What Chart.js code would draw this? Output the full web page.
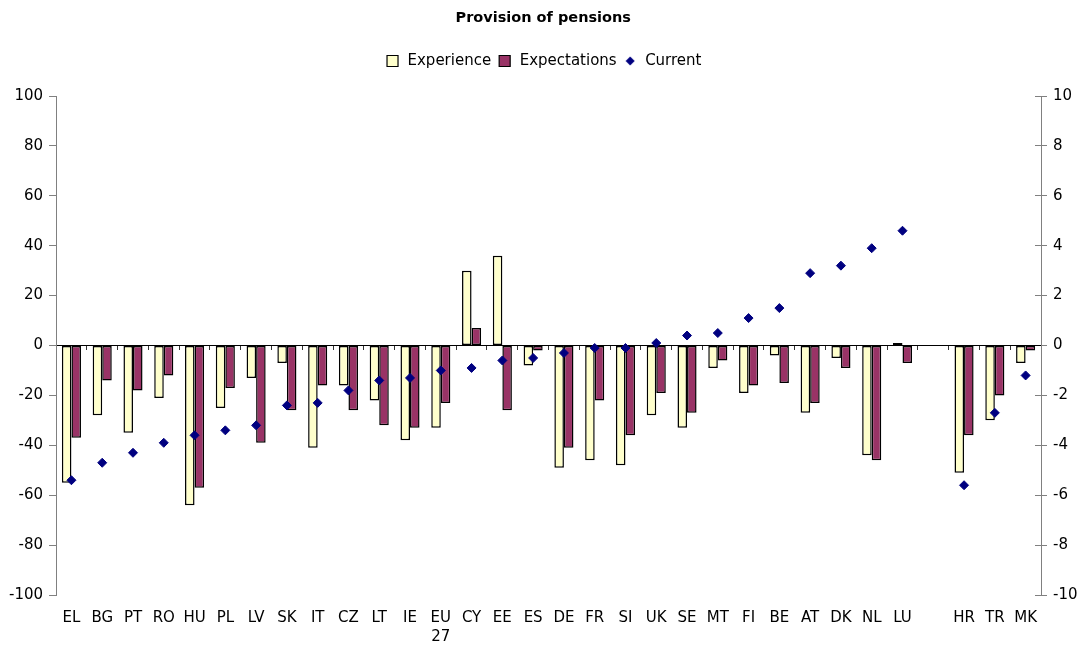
<!DOCTYPE html>
<html>
<head>
<meta charset="utf-8">
<script src="https://cdn.jsdelivr.net/npm/chart.js@4/dist/chart.umd.min.js"></script>
<style>
  html, body { margin: 0; padding: 0; background: #ffffff; }
  #wrap { width: 1084px; height: 646px; }
</style>
</head>
<body>
<div id="wrap"><canvas id="c" width="1084" height="646"></canvas></div>
<script>
const categories = ['EL','BG','PT','RO','HU','PL','LV','SK','IT','CZ','LT','IE',['EU','27'],'CY','EE','ES','DE','FR','SI','UK','SE','MT','FI','BE','AT','DK','NL','LU','','HR','TR','MK'];
const experience = [-55,-28,-35,-21,-64,-25,-13,-7,-41,-16,-22,-38,-33,30,36,-8,-49,-46,-48,-28,-33,-9,-19,-4,-27,-5,-44,1,null,-51,-30,-7];
const expectations = [-37,-14,-18,-12,-57,-17,-39,-26,-16,-26,-32,-33,-23,7,-26,-2,-41,-22,-36,-19,-27,-6,-16,-15,-23,-9,-46,-7,null,-36,-20,-2];
const current = [-5.4,-4.7,-4.3,-3.9,-3.6,-3.4,-3.2,-2.4,-2.3,-1.8,-1.4,-1.3,-1.0,-0.9,-0.6,-0.5,-0.3,-0.1,-0.1,0.1,0.4,0.5,1.1,1.5,2.9,3.2,3.9,4.6,null,-5.6,-2.7,-1.2];
const leftTicks = {min: -100, max: 100, step: 20};
const rightTicks = {min: -10, max: 10, step: 2};

const FONT = "'DejaVu Sans', Verdana, sans-serif";
Chart.defaults.font.family = FONT;
Chart.defaults.color = '#000';

// small diamond icon for the legend
const diamond = document.createElement('canvas');
diamond.width = 10; diamond.height = 10;
(function(){
  const g = diamond.getContext('2d');
  g.fillStyle = '#000080';
  g.beginPath(); g.moveTo(5,0.5); g.lineTo(9.5,5); g.lineTo(5,9.5); g.lineTo(0.5,5); g.closePath(); g.fill();
})();

const legendSpace = {
  id: 'legendSpace',
  afterInit(chart) {
    const lg = chart.legend;
    if (!lg) return;
    const orig = lg.fit.bind(lg);
    lg.fit = function() { orig(); this.height += 17.5; };
  }
};

new Chart(document.getElementById('c'), {
  type: 'bar',
  data: {
    labels: categories,
    datasets: [
      { label: 'Experience', data: experience, backgroundColor: '#FFFFCC', borderColor: '#000', borderWidth: 1.5, borderSkipped: false, inflateAmount: 0, pointStyle: 'rect', order: 1, categoryPercentage: 0.62, barPercentage: 1.0 },
      { label: 'Expectations', data: expectations, backgroundColor: '#993366', borderColor: '#000', borderWidth: 1.5, borderSkipped: false, inflateAmount: 0, pointStyle: 'rect', order: 1, categoryPercentage: 0.62, barPercentage: 1.0 },
      { type: 'line', label: 'Current', data: current, yAxisID: 'y2', showLine: false, pointStyle: 'rectRot', pointRadius: 4.5, pointHoverRadius: 4.5, backgroundColor: '#000080', borderColor: '#000080', borderWidth: 1, order: 0 }
    ]
  },
  options: {
    responsive: false,
    devicePixelRatio: 1,
    animation: false,
    layout: { padding: { left: 3, right: 0.5, top: 0, bottom: -14 } },
    plugins: {
      tooltip: { enabled: false },
      title: { display: true, text: 'Provision of pensions', font: { size: 14.5, weight: 'bold', family: FONT }, color: '#000', padding: { top: 9.3, bottom: 20.8 } },
      legend: {
        display: true, position: 'top',
        labels: {
          usePointStyle: true, boxHeight: 11, padding: 6, color: '#000',
          font: { size: 15, family: FONT },
          sort: (a, b) => a.datasetIndex - b.datasetIndex,
          generateLabels(chart) {
            const items = Chart.defaults.plugins.legend.labels.generateLabels(chart);
            items.forEach(it => {
              if (it.datasetIndex === 2) { it.pointStyle = diamond; }
              else { it.pointStyle = 'rect'; it.lineWidth = 1.2; it.strokeStyle = '#000'; }
            });
            return items;
          }
        }
      }
    },
    scales: {
      x: {
        type: 'category', offset: true,
        position: { y: 0 },
        grid: { offset: true, drawOnChartArea: false, drawTicks: true, tickLength: 4, color: '#333' },
        border: { display: true, color: '#000', width: 1 },
        ticks: { display: false }
      },
      x2: {
        type: 'category', axis: 'x', offset: true, position: 'bottom',
        grid: { display: false, drawTicks: false, offset: true },
        border: { display: false },
        ticks: { padding: 13, autoSkip: false, maxRotation: 0, font: { size: 15, lineHeight: 1.3, family: FONT }, color: '#000' }
      },
      y: {
        type: 'linear', position: 'left', min: leftTicks.min, max: leftTicks.max,
        grid: { drawOnChartArea: false, drawTicks: true, tickLength: 7, color: '#808080' },
        border: { display: true, color: '#808080', width: 1 },
        ticks: { stepSize: leftTicks.step, padding: 6, font: { size: 15, family: FONT }, color: '#000' }
      },
      y2: {
        type: 'linear', position: 'right', min: rightTicks.min, max: rightTicks.max,
        grid: { drawOnChartArea: false, drawTicks: true, tickLength: 6, color: '#808080' },
        border: { display: true, color: '#808080', width: 1 },
        ticks: { stepSize: rightTicks.step, padding: 6, font: { size: 15, family: FONT }, color: '#000' }
      },
      y3: {
        type: 'linear', axis: 'y', position: { x: categories.length - 0.5 }, min: rightTicks.min, max: rightTicks.max,
        grid: { drawOnChartArea: false, drawTicks: true, tickLength: 6, color: '#808080' },
        border: { display: false },
        ticks: { stepSize: rightTicks.step, display: false }
      }
    }
  },
  plugins: [legendSpace]
});
</script>
</body>
</html>
